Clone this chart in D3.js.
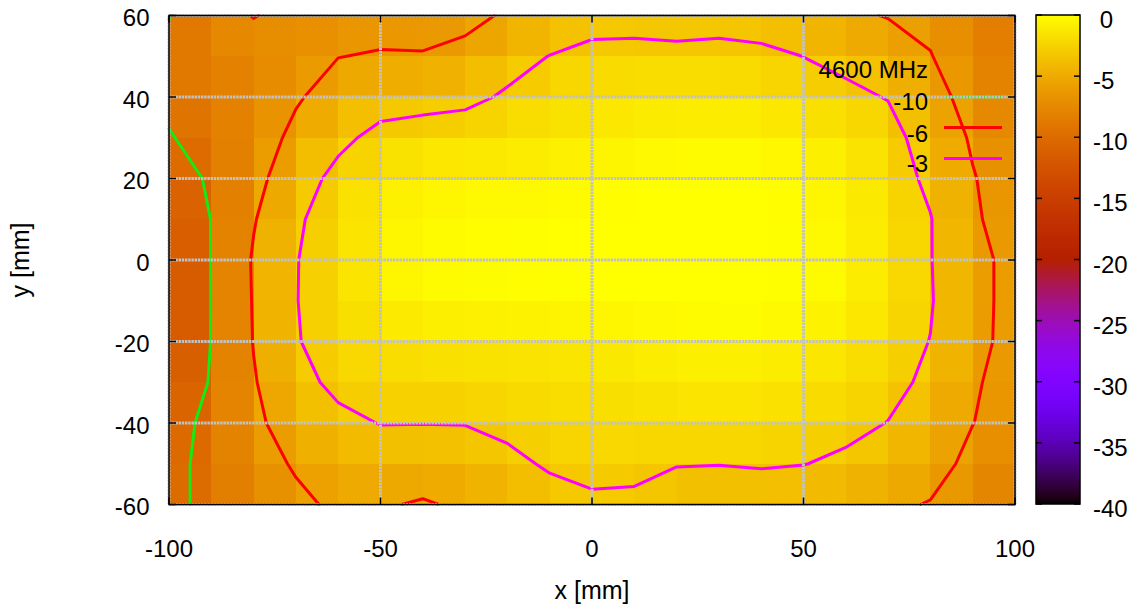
<!DOCTYPE html>
<html>
<head>
<meta charset="utf-8">
<script src="https://cdn.jsdelivr.net/npm/d3@7"></script>
<style>
  html, body { margin: 0; padding: 0; background: #ffffff; }
  svg { display: block; font-family: "Liberation Sans", Arial, Helvetica, sans-serif; }
</style>
</head>
<body>
<svg id="chart" width="1137" height="609"></svg>
<script>
// Measurement grid: node positions in mm
const xNodes = [-100, -90, -80, -70, -60, -50, -40, -30, -20, -10, 0, 10, 20, 30, 40, 50, 60, 70, 80, 90, 100];
const yNodes = [60, 50, 40, 30, 20, 10, 0, -10, -20, -30, -40, -50, -60];

// Normalised field level [dB] at each node, one row per y (top to bottom), one column per x
const gain = [
  [-10.1, -7.8, -5.85, -7.2, -7.2, -7.0, -7.0, -6.9, -5.6, -4.8, -4.0, -4.0, -4.2, -4.0, -4.3, -5.0, -5.6, -6.1, -6.6, -8.0, -9.0],
  [-9.0, -8.4, -8.0, -7.2, -6.05, -5.8, -5.85, -5.1, -3.9, -2.95, -2.3, -2.2, -2.3, -2.2, -2.4, -3.02, -3.6, -4.8, -5.9, -7.6, -8.8],
  [-9.3, -8.5, -7.6, -6.3, -4.8, -3.9, -3.8, -3.6, -2.7, -2.1, -1.8, -1.6, -1.5, -1.5, -1.7, -2.1, -2.5, -3.1, -5.1, -6.9, -8.6],
  [-10.2, -8.8, -7.5, -5.3, -3.5, -2.4, -2.0, -1.7, -1.6, -1.3, -1.0, -0.8, -0.5, -0.4, -0.5, -0.8, -1.3, -2.1, -4.2, -6.3, -8.0],
  [-11.5, -9.6, -7.0, -4.0, -2.4, -1.2, -0.8, -0.6, -0.6, -0.5, -0.3, -0.1, 0, 0, 0, -0.3, -0.8, -1.8, -3.5, -5.85, -7.4],
  [-12.5, -9.95, -6.2, -3.2, -2.3, -0.7, -0.3, -0.2, -0.1, 0, 0, 0, 0, 0, 0, -0.2, -0.6, -1.6, -2.9, -5.7, -7.0],
  [-13.0, -9.95, -5.7, -3.05, -2.3, -0.6, -0.2, -0.1, -0.1, 0, 0, 0, 0, 0, 0, -0.1, -0.4, -1.5, -2.9, -5.4, -6.6],
  [-13.2, -9.95, -5.8, -3.05, -2.1, -0.8, -0.4, -0.3, -0.2, -0.1, -0.1, 0, 0, 0, 0, -0.1, -0.5, -1.5, -2.8, -5.6, -6.4],
  [-12.8, -9.95, -5.9, -3.1, -2.3, -1.7, -1.4, -1.3, -1.2, -1.1, -1.0, -0.8, -0.5, -0.3, -0.4, -0.7, -1.2, -2.0, -3.05, -5.55, -6.5],
  [-12.3, -9.8, -6.2, -3.8, -2.4, -2.3, -2.1, -2.0, -1.9, -1.8, -1.7, -1.5, -1.3, -1.2, -1.3, -1.5, -1.9, -2.3, -3.5, -5.7, -7.0],
  [-11.6, -9.0, -6.6, -4.6, -3.6, -2.93, -2.96, -2.94, -2.4, -2.1, -1.9, -1.8, -1.7, -1.6, -1.7, -2.0, -2.4, -3.05, -5.0, -5.95, -7.3],
  [-11.0, -9.0, -7.2, -5.7, -4.8, -4.3, -4.2, -4.0, -3.6, -2.7, -2.5, -2.5, -2.9, -2.95, -2.8, -2.95, -3.4, -4.1, -4.8, -6.8, -8.0],
  [-10.9, -9.1, -7.8, -6.6, -5.5, -5.7, -6.3, -5.5, -4.8, -4.0, -3.3, -3.4, -4.2, -4.3, -4.4, -4.6, -5.0, -5.5, -6.15, -7.6, -8.5]
];

// Contour levels and their line colours
const contourLevels = [-10, -6, -3];
const contourColors = ["#14ea14", "#ff0000", "#ff00ff"];
const legendTitle = "4600 MHz";

// Axis ticks
const xTicks = [-100, -50, 0, 50, 100];
const yTicks = [-60, -40, -20, 0, 20, 40, 60];
const cbTicks = [0, -5, -10, -15, -20, -25, -30, -35, -40];
const xTitle = "x [mm]";
const yTitle = "y [mm]";

// ---------------------------------------------------------------------------
const svg = d3.select("#chart");
const plot = { left: 169, right: 1015, top: 15.5, bottom: 504.5 };
const cbar = { left: 1036, right: 1080, top: 15, bottom: 504 };

const xScale = d3.scaleLinear().domain([-100, 100]).range([plot.left, plot.right]);
const yScale = d3.scaleLinear().domain([-60, 60]).range([plot.bottom, plot.top]);
const cScale = d3.scaleLinear().domain([-40, 0]).range([cbar.bottom, cbar.top]);

// Black - blue - red - yellow palette (sqrt, cube, sine formulae)
function palette(v) {
  const t = Math.max(0, Math.min(1, (v + 40) / 40));
  const r = Math.sqrt(t);
  const g = t * t * t;
  const b = Math.max(0, Math.sin(2 * Math.PI * t));
  return d3.rgb(Math.round(r * 255), Math.round(g * 255), Math.round(b * 255)).formatHex();
}

// Heat map quads coloured by the mean of their four corners
const cells = [];
for (let j = 0; j < yNodes.length - 1; j++) {
  for (let i = 0; i < xNodes.length - 1; i++) {
    const mean = (gain[j][i] + gain[j][i + 1] + gain[j + 1][i] + gain[j + 1][i + 1]) / 4;
    cells.push({ x0: xNodes[i], x1: xNodes[i + 1], y0: yNodes[j], y1: yNodes[j + 1], v: mean });
  }
}
svg.append("g")
  .attr("shape-rendering", "crispEdges")
  .selectAll("rect").data(cells).join("rect")
  .attr("x", d => xScale(d.x0))
  .attr("y", d => yScale(d.y0))
  .attr("width", d => xScale(d.x1) - xScale(d.x0) + 0.5)
  .attr("height", d => yScale(d.y1) - yScale(d.y0) + 0.5)
  .attr("fill", d => palette(d.v));

// Marching squares on the node grid, chained into polylines
function contourLines(level) {
  const segs = [];
  for (let j = 0; j < yNodes.length - 1; j++) {
    for (let i = 0; i < xNodes.length - 1; i++) {
      const P = [
        [xNodes[i], yNodes[j], gain[j][i]],
        [xNodes[i + 1], yNodes[j], gain[j][i + 1]],
        [xNodes[i + 1], yNodes[j + 1], gain[j + 1][i + 1]],
        [xNodes[i], yNodes[j + 1], gain[j + 1][i]]
      ];
      const pts = [];
      for (let k = 0; k < 4; k++) {
        const a = P[k], b = P[(k + 1) % 4];
        if ((a[2] > level) !== (b[2] > level)) {
          const t = (level - a[2]) / (b[2] - a[2]);
          pts.push([a[0] + t * (b[0] - a[0]), a[1] + t * (b[1] - a[1])]);
        }
      }
      if (pts.length === 2) segs.push(pts);
      else if (pts.length === 4) {
        const centre = (P[0][2] + P[1][2] + P[2][2] + P[3][2]) / 4;
        if ((centre > level) === (P[0][2] > level)) {
          segs.push([pts[0], pts[1]], [pts[2], pts[3]]);
        } else {
          segs.push([pts[3], pts[0]], [pts[1], pts[2]]);
        }
      }
    }
  }
  const key = p => p[0].toFixed(5) + "," + p[1].toFixed(5);
  const byKey = new Map();
  segs.forEach((s, idx) => s.forEach(p => {
    const k = key(p);
    if (!byKey.has(k)) byKey.set(k, []);
    byKey.get(k).push(idx);
  }));
  const used = new Array(segs.length).fill(false);
  const lines = [];
  function extend(line) {
    for (;;) {
      const end = line[line.length - 1];
      const next = (byKey.get(key(end)) || []).find(idx => !used[idx]);
      if (next === undefined) break;
      used[next] = true;
      const s = segs[next];
      line.push(key(s[0]) === key(end) ? s[1] : s[0]);
    }
  }
  segs.forEach((s, idx) => {
    if (used[idx]) return;
    used[idx] = true;
    const line = [s[0], s[1]];
    extend(line);
    line.reverse();
    extend(line);
    lines.push(line);
  });
  return lines;
}

const lineGen = d3.line().x(d => xScale(d[0])).y(d => yScale(d[1]));
const contourG = svg.append("g");
contourLevels.forEach((lvl, n) => {
  contourG.selectAll(null).data(contourLines(lvl)).join("path")
    .attr("d", lineGen)
    .attr("fill", "none")
    .attr("stroke", contourColors[n])
    .attr("stroke-width", 3)
    .attr("stroke-linejoin", "round")
    .attr("stroke-linecap", "round");
});

// Key: title, labels, line samples
const key = {
  textRight: 928,
  sampleX0: 944,
  sampleX1: 1002,
  baselines: [110, 141.5, 172],
  sampleYs: [yScale(40), 127.5, 158.5]
};
const keyG = svg.append("g");
keyG.selectAll("line").data(contourLevels).join("line")
  .attr("x1", key.sampleX0).attr("x2", key.sampleX1)
  .attr("y1", (d, i) => key.sampleYs[i]).attr("y2", (d, i) => key.sampleYs[i])
  .attr("stroke", (d, i) => contourColors[i])
  .attr("stroke-width", (d, i) => i === 0 ? 2.4 : 3);

// Grid drawn in front of the map
const gridG = svg.append("g")
  .attr("stroke", "#c2c2c2")
  .attr("stroke-width", 3)
  .attr("stroke-dasharray", "2.4,0.8")
  .attr("fill", "none");
gridG.selectAll(".gx").data(xTicks).join("line").attr("class", "gx")
  .attr("x1", d => xScale(d)).attr("x2", d => xScale(d))
  .attr("y1", plot.top).attr("y2", plot.bottom);
gridG.selectAll(".gy").data(yTicks).join("line").attr("class", "gy")
  .attr("y1", d => yScale(d)).attr("y2", d => yScale(d))
  .attr("x1", plot.left).attr("x2", plot.right);

// Key text above grid
keyG.append("text")
  .attr("x", key.textRight).attr("y", 78)
  .attr("text-anchor", "end").attr("font-size", 24).attr("fill", "#000")
  .text(legendTitle);
svg.append("g").selectAll("text").data(contourLevels).join("text")
  .attr("x", key.textRight).attr("y", (d, i) => key.baselines[i])
  .attr("text-anchor", "end").attr("font-size", 24).attr("fill", "#000")
  .text(d => String(d));

// Border and inward ticks (mirrored)
const axG = svg.append("g").attr("stroke", "#000").attr("stroke-width", 1.5);
const tl = 7;
xTicks.forEach(t => {
  const x = xScale(t);
  axG.append("line").attr("x1", x).attr("x2", x).attr("y1", plot.bottom).attr("y2", plot.bottom - tl);
  axG.append("line").attr("x1", x).attr("x2", x).attr("y1", plot.top).attr("y2", plot.top + tl);
});
yTicks.forEach(t => {
  const y = yScale(t);
  axG.append("line").attr("x1", plot.left).attr("x2", plot.left + tl).attr("y1", y).attr("y2", y);
  axG.append("line").attr("x1", plot.right).attr("x2", plot.right - tl).attr("y1", y).attr("y2", y);
});
axG.append("rect")
  .attr("x", plot.left).attr("y", plot.top)
  .attr("width", plot.right - plot.left).attr("height", plot.bottom - plot.top)
  .attr("fill", "none");

// Tick labels
const fmt = v => String(v);
svg.append("g").selectAll("text").data(xTicks).join("text")
  .attr("x", d => xScale(d)).attr("y", 557)
  .attr("text-anchor", "middle").attr("font-size", 24).attr("fill", "#000")
  .text(fmt);
svg.append("g").selectAll("text").data(yTicks).join("text")
  .attr("x", 149.5).attr("y", d => yScale(d) + 10.8)
  .attr("text-anchor", "end").attr("font-size", 24).attr("fill", "#000")
  .text(fmt);

// Axis titles
svg.append("text")
  .attr("x", 592).attr("y", 599)
  .attr("text-anchor", "middle").attr("font-size", 25).attr("fill", "#000")
  .text(xTitle);
svg.append("text")
  .attr("transform", "translate(29,260) rotate(-90)")
  .attr("text-anchor", "middle").attr("font-size", 25).attr("fill", "#000")
  .text(yTitle);

// Colour box
const defs = svg.append("defs");
const grad = defs.append("linearGradient").attr("id", "cbgrad")
  .attr("x1", 0).attr("y1", 1).attr("x2", 0).attr("y2", 0);
const stops = d3.range(0, 101).map(k => -40 + 40 * k / 100);
grad.selectAll("stop").data(stops).join("stop")
  .attr("offset", (d, k) => k + "%")
  .attr("stop-color", d => palette(d));
svg.append("rect")
  .attr("x", cbar.left).attr("y", cbar.top)
  .attr("width", cbar.right - cbar.left).attr("height", cbar.bottom - cbar.top)
  .attr("fill", "url(#cbgrad)");
const cbG = svg.append("g").attr("stroke", "#000").attr("stroke-width", 1.5);
cbTicks.forEach(t => {
  const y = cScale(t);
  cbG.append("line").attr("x1", cbar.left).attr("x2", cbar.left + 6).attr("y1", y).attr("y2", y);
  cbG.append("line").attr("x1", cbar.right).attr("x2", cbar.right - 6).attr("y1", y).attr("y2", y);
});
cbG.append("rect")
  .attr("x", cbar.left).attr("y", cbar.top)
  .attr("width", cbar.right - cbar.left).attr("height", cbar.bottom - cbar.top)
  .attr("fill", "none");
svg.append("g").selectAll("text").data(cbTicks).join("text")
  .attr("x", 1093).attr("y", d => cScale(d) + 13)
  .attr("font-size", 24).attr("fill", "#000")
  .style("white-space", "pre")
  .text(d => (d >= 0 ? " " : "") + String(d));
</script>
</body>
</html>
